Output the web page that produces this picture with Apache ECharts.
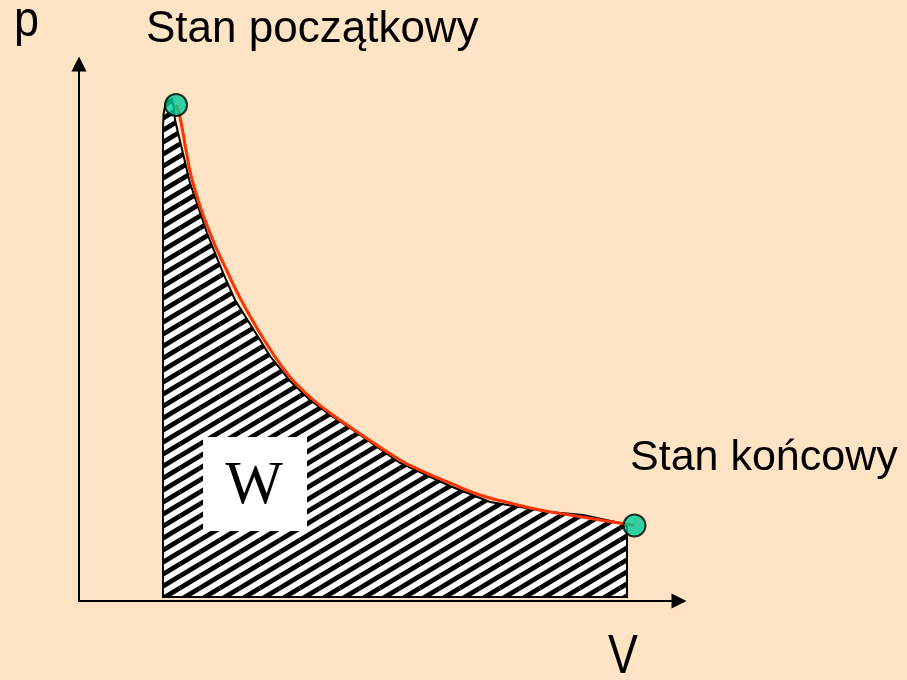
<!DOCTYPE html>
<html>
<head>
<meta charset="utf-8">
<script src="https://cdn.jsdelivr.net/npm/echarts@6.0.0/dist/echarts.min.js"></script>
<style>
  html, body { margin: 0; padding: 0; background: #ffe3c5; }
  #chart-container { width: 907px; height: 680px; }
</style>
</head>
<body>
<div id="chart-container"></div>
<script>
// p-V curve (arbitrary units)
const redCurve = [
  [1.617, 8.267], [1.683, 8.067], [1.783, 7.517], [1.9, 6.967],
  [2.183, 6.133], [2.467, 5.5], [2.65, 5.117], [2.85, 4.75],
  [3.183, 4.2], [3.517, 3.733], [3.85, 3.4], [4.183, 3.133],
  [4.517, 2.9], [5.35, 2.35], [5.683, 2.183], [6.183, 1.967],
  [6.683, 1.767], [7.183, 1.633], [7.683, 1.517], [8.183, 1.433],
  [8.683, 1.35], [9.258, 1.258]
];

// outline of the hatched work area W
const hatchEdge = [
  [1.4, 0.067], [1.4, 7.85], [1.408, 8.1], [1.433, 8.25], [1.483, 8.35],
  [1.55, 8.367], [1.583, 8.217], [1.6, 8.017], [1.85, 6.967],
  [2.133, 6.133], [2.4, 5.467], [2.6, 5.017], [2.85, 4.617],
  [3.183, 4.083], [3.517, 3.667], [3.85, 3.35], [4.183, 3.1],
  [4.517, 2.883], [5.35, 2.3], [6.183, 1.917], [6.85, 1.65],
  [7.85, 1.483], [8.4, 1.433], [9.017, 1.3], [9.133, 1.25],
  [9.133, 0.067]
];

// initial and final states
const states = [[1.617, 8.267], [9.258, 1.258]];

// diagonal hatch pattern
function makeHatch() {
  const W = 20, H = 12;
  const c = document.createElement("canvas");
  c.width = W;
  c.height = H;
  const ctx = c.getContext("2d");
  ctx.fillStyle = "#ffffff";
  ctx.fillRect(0, 0, W, H);
  ctx.strokeStyle = "#000000";
  ctx.lineWidth = 4.8;
  for (const dx of [-W, 0, W]) {
    for (const dy of [-H, 0, H]) {
      ctx.beginPath();
      ctx.moveTo(dx, dy + H);
      ctx.lineTo(dx + W, dy);
      ctx.stroke();
    }
  }
  return c;
}

const dom = document.getElementById("chart-container");
const myChart = echarts.init(dom, null, { renderer: "canvas" });

const hatch = { image: makeHatch(), repeat: "repeat" };
const triangle = "path://M5,0 L10,10 L0,10 Z";

const axisCommon = {
  type: "value",
  min: 0,
  axisLine: {
    show: true,
    symbol: ["none", triangle],
    symbolSize: [15, 15],
    lineStyle: { color: "#000", width: 2 }
  },
  axisTick: { show: false },
  axisLabel: { show: false },
  splitLine: { show: false }
};

const option = {
  backgroundColor: "#ffe3c5",
  animation: false,
  grid: { left: 79, right: 228, top: 64, bottom: 79 },
  xAxis: Object.assign({}, axisCommon, { max: 10 }),
  yAxis: Object.assign({}, axisCommon, { max: 8.95 }),
  series: [
    {
      type: "custom",
      coordinateSystem: "cartesian2d",
      silent: true,
      z: 1,
      data: [[0, 0]],
      renderItem: function (params, api) {
        return {
          type: "polygon",
          shape: { points: hatchEdge.map(function (p) { return api.coord(p); }) },
          style: { fill: hatch, stroke: "#000", lineWidth: 2 }
        };
      }
    },
    {
      type: "line",
      data: redCurve,
      smooth: 0.5,
      showSymbol: false,
      silent: true,
      z: 2,
      lineStyle: { color: "#ff3300", width: 3 }
    },
    {
      type: "scatter",
      data: states,
      symbolSize: 22,
      silent: true,
      z: 3,
      itemStyle: { color: "#00cc99", borderColor: "#000", borderWidth: 2 }
    }
  ],
  graphic: [
    {
      type: "text", x: 14, y: 22, scaleX: 0.9,
      style: { text: "p", font: "50px 'Liberation Sans', Arial, sans-serif", fill: "#000", verticalAlign: "middle" }
    },
    {
      type: "text", x: 608, y: 658, scaleX: 0.8,
      style: { text: "V", font: "56px 'Liberation Sans', Arial, sans-serif", fill: "#000", verticalAlign: "middle" }
    },
    {
      type: "text", x: 146, y: 30,
      style: { text: "Stan początkowy", font: "44px 'Liberation Sans', Arial, sans-serif", fill: "#000", verticalAlign: "middle" }
    },
    {
      type: "text", x: 630, y: 458,
      style: { text: "Stan końcowy", font: "43px 'Liberation Sans', Arial, sans-serif", fill: "#000", verticalAlign: "middle" }
    },
    {
      type: "rect", z: 10,
      shape: { x: 203, y: 437, width: 104, height: 94 },
      style: { fill: "#ffffff" }
    },
    {
      type: "text", z: 11, x: 254, y: 487,
      style: { text: "W", font: "61px 'Liberation Serif', 'Times New Roman', serif", fill: "#000", align: "center", verticalAlign: "middle" }
    }
  ]
};

myChart.setOption(option);
window.addEventListener("resize", myChart.resize);
</script>
</body>
</html>
